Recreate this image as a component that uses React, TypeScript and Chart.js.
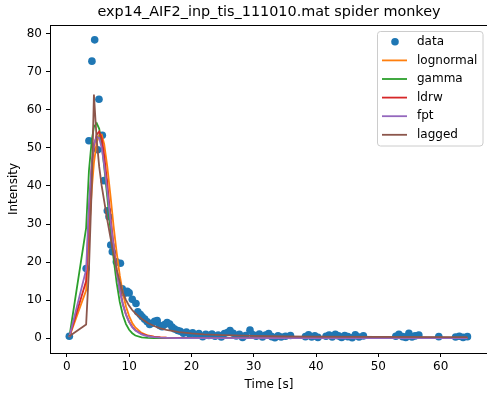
import React, { useEffect, useRef } from "react";
import { Chart, registerables } from "chart.js";

Chart.register(...registerables);

const TITLE = "exp14_AIF2_inp_tis_111010.mat spider monkey";
const X_LABEL = "Time [s]";
const Y_LABEL = "Intensity";
const X_TICKS = [0, 10, 20, 30, 40, 50, 60];
const Y_TICKS = [0, 10, 20, 30, 40, 50, 60, 70, 80];

const dataTimes = [
  0.4, 3.1, 3.55, 4.03, 4.47, 4.95, 5.16, 5.7, 5.97, 6.5,
  6.77, 7.05, 7.3, 7.95, 8.6, 8.9, 9.3, 9.7, 10.0, 10.5,
  11.1, 11.4, 11.8, 12.1, 12.5, 12.9, 13.3, 13.7, 14.1, 14.5,
  14.9, 15.3, 15.7, 16.1, 16.5, 16.9, 17.3, 17.8, 18.2, 18.7,
  19.2, 19.7, 20.2, 20.7, 21.2, 21.8, 22.3, 22.8, 23.3, 23.8,
  24.3, 24.8, 25.3, 25.8, 26.2, 26.7, 27.2, 27.7, 28.2, 28.7,
  29.4, 29.9, 30.4, 30.9, 31.4, 31.9, 32.4, 32.9, 33.4, 33.9,
  34.4, 35.1, 35.9, 38.3, 38.8, 39.3, 39.8, 40.3, 41.6, 42.1,
  42.6, 43.1, 43.6, 44.1, 44.6, 45.1, 45.8, 46.3, 46.9, 47.6,
  52.8, 53.3, 53.9, 54.4, 54.9, 55.4, 55.9, 56.5, 59.7, 62.4,
  63.0, 63.6, 64.3,
];
const dataValues = [
  0.5, 18.3, 51.9, 72.8, 78.4, 49.5, 62.8, 53.3, 41.4, 33.5,
  31.9, 24.5, 22.7, 20.1, 19.7, 13.0, 11.8, 12.3, 11.9, 10.2,
  9.1, 6.9, 6.2, 5.6, 5.0, 4.3, 3.6, 3.9, 4.4, 4.6,
  3.3, 3.0, 3.6, 4.1, 3.7, 2.9, 2.4, 2.0, 1.8, 1.3,
  1.6, 1.1, 1.4, 0.9, 1.2, 0.4, 1.0, 0.7, 1.1, 0.5,
  0.8, 0.3, 1.2, 1.5, 2.0, 1.3, 0.6, 1.0, 0.2, 0.7,
  2.1, 0.9, 0.5, 1.1, 0.3, 0.8, 1.2, 0.4, 0.1, 0.6,
  0.3, 0.5, 0.7, 0.4, 0.9, 0.3, 0.6, 0.2, 0.5, 0.8,
  0.3, 1.0, 0.6, 0.2, 0.7, 0.4, 0.1, 0.9, 0.3, 0.6,
  0.5, 1.0, 0.4, 0.2, 1.3, 0.3, 0.6, 0.8, 0.4, 0.3,
  0.5, 0.2, 0.4,
];

const fitTimes = [
  0.4, 3.1, 3.55, 4.0, 4.35, 4.8, 5.2, 5.6, 6.0, 6.5,
  7.0, 7.5, 8.0, 8.5, 9.0, 9.5, 10.0, 10.5, 11.0, 12.0,
  13.0, 14.0, 15.0, 16.0, 18.0, 20.0, 22.0, 25.0, 30.0, 35.0,
  40.0, 50.0, 64.3,
];
const lognormal = [
  0.3, 12.6, 27, 39, 46, 51.5, 53.3, 53.5, 51, 45,
  37.5, 29.5, 22.5, 16.5, 11.8, 8.3, 5.8, 4.0, 2.8, 1.4,
  0.7, 0.38, 0.2, 0.11, 0.03, 0.01, 0, 0, 0, 0,
  0, 0, 0,
];
const gamma = [
  0.3, 29, 44, 52, 55.5, 56.5, 55, 51, 45, 37,
  28.5, 21, 14.5, 9.5, 6, 3.7, 2.2, 1.3, 0.7, 0.2,
  0.05, 0.01, 0, 0, 0, 0, 0, 0, 0, 0,
  0, 0, 0,
];
const ldrw = [
  0.3, 15, 33, 45, 50.5, 53.5, 54.3, 52.5, 48, 40.5,
  32, 24.5, 18, 12.8, 9, 6.2, 4.3, 3.0, 2.1, 1.1,
  0.6, 0.35, 0.2, 0.12, 0.05, 0.02, 0.01, 0, 0, 0,
  0, 0, 0,
];
const fpt = [
  0.3, 18, 35, 46, 51, 53, 52.5, 50, 45.5, 38.5,
  31, 24, 17.5, 12.5, 8.8, 6.1, 4.2, 2.9, 2.0, 1.0,
  0.5, 0.25, 0.13, 0.07, 0.02, 0.01, 0, 0, 0, 0,
  0, 0, 0,
];
const lagged = [
  0.5, 3.6, 18, 40, 64, 52, 45, 40, 36, 31,
  26.5, 22, 18, 14.8, 12, 10, 8.5, 7.4, 6.5, 5.1,
  4.0, 3.2, 2.6, 2.2, 1.6, 1.25, 1.0, 0.8, 0.6, 0.48,
  0.42, 0.34, 0.28,
];

const SERIES_NAMES = ["lognormal", "gamma", "ldrw", "fpt", "lagged"];
const SERIES_VALUES = [lognormal, gamma, ldrw, fpt, lagged];
const SERIES_COLORS = ["#ff7f0e", "#2ca02c", "#d62728", "#9467bd", "#8c564b"];
const DATA_COLOR = "#1f77b4";
const FONT = "DejaVu Sans";

const decorPlugin = {
  id: "decor",
  afterDraw(chart: any) {
    const { ctx, chartArea } = chart;
    const { left, right, top, bottom } = chartArea;
    ctx.save();
    // frame
    ctx.strokeStyle = "#000";
    ctx.lineWidth = 1;
    ctx.strokeRect(left + 0.5, top + 0.5, right - left, bottom - top);
    // title
    ctx.fillStyle = "#000";
    ctx.font = `14.4px "${FONT}"`;
    ctx.textAlign = "center";
    ctx.textBaseline = "middle";
    ctx.fillText(TITLE, (left + right) / 2, 12.5);
    // axis labels
    ctx.font = `12px "${FONT}"`;
    ctx.fillText(X_LABEL, (left + right) / 2, 384.5);
    ctx.save();
    ctx.translate(14, (top + bottom) / 2);
    ctx.rotate(-Math.PI / 2);
    ctx.fillText(Y_LABEL, 0, 0);
    ctx.restore();
    // legend
    const lx = 377.5, ly = 31.5, lw = 105.5, lh = 114.5, r = 3;
    ctx.beginPath();
    ctx.moveTo(lx + r, ly);
    ctx.lineTo(lx + lw - r, ly);
    ctx.arcTo(lx + lw, ly, lx + lw, ly + r, r);
    ctx.lineTo(lx + lw, ly + lh - r);
    ctx.arcTo(lx + lw, ly + lh, lx + lw - r, ly + lh, r);
    ctx.lineTo(lx + r, ly + lh);
    ctx.arcTo(lx, ly + lh, lx, ly + lh - r, r);
    ctx.lineTo(lx, ly + r);
    ctx.arcTo(lx, ly, lx + r, ly, r);
    ctx.closePath();
    ctx.fillStyle = "rgba(255,255,255,0.8)";
    ctx.fill();
    ctx.strokeStyle = "#cccccc";
    ctx.lineWidth = 1;
    ctx.stroke();
    const rowY = [41.7, 60.4, 79.0, 97.6, 116.2, 134.8];
    const labels = ["data", ...SERIES_NAMES];
    ctx.textAlign = "left";
    ctx.textBaseline = "middle";
    ctx.font = `12px "${FONT}"`;
    labels.forEach((lab, i) => {
      const y = rowY[i];
      if (i === 0) {
        ctx.fillStyle = DATA_COLOR;
        ctx.beginPath();
        ctx.arc(395, y, 3.8, 0, Math.PI * 2);
        ctx.fill();
      } else {
        ctx.strokeStyle = SERIES_COLORS[i - 1];
        ctx.lineWidth = 1.8;
        ctx.beginPath();
        ctx.moveTo(382, y);
        ctx.lineTo(407, y);
        ctx.stroke();
      }
      ctx.fillStyle = "#000";
      ctx.fillText(lab, 417, y);
    });
    ctx.restore();
  },
};

export default function App() {
  const ref = useRef<HTMLCanvasElement>(null);
  useEffect(() => {
    const datasets: any[] = [
      {
        label: "data",
        data: dataTimes.map((t, i) => ({ x: t, y: dataValues[i] })),
        backgroundColor: DATA_COLOR,
        borderWidth: 0,
        pointRadius: 3.8,
        showLine: false,
        order: 10,
      },
      ...SERIES_NAMES.map((name, k) => ({
        label: name,
        data: fitTimes.map((t, i) => ({ x: t, y: SERIES_VALUES[k][i] })),
        borderColor: SERIES_COLORS[k],
        backgroundColor: SERIES_COLORS[k],
        borderWidth: 1.8,
        pointRadius: 0,
        showLine: true,
        fill: false,
        tension: 0,
        order: 5 - k,
      })),
    ];
    const tickFont = { family: FONT, size: 12 };
    const chart = new Chart(ref.current as HTMLCanvasElement, {
      type: "scatter",
      data: { datasets },
      options: {
        responsive: false,
        devicePixelRatio: 1,
        animation: false,
        events: [],
        layout: { padding: { top: 25, right: 2, left: 0, bottom: 0 } },
        plugins: { legend: { display: false }, tooltip: { enabled: false }, title: { display: false } },
        scales: {
          x: {
            type: "linear",
            min: -2.7,
            max: 67.6,
            afterBuildTicks: (s: any) => {
              s.ticks = X_TICKS.map((v) => ({ value: v }));
            },
            afterFit: (s: any) => {
              s.height = 45;
            },
            grid: { drawOnChartArea: false, drawTicks: true, tickLength: 4, tickColor: "#000", tickWidth: 1 },
            border: { display: false },
            ticks: { color: "#000", font: tickFont, padding: 3, maxRotation: 0, autoSkip: false },
          },
          y: {
            type: "linear",
            min: -3.9,
            max: 82.3,
            afterBuildTicks: (s: any) => {
              s.ticks = Y_TICKS.map((v) => ({ value: v }));
            },
            afterFit: (s: any) => {
              s.width = 50;
            },
            grid: { drawOnChartArea: false, drawTicks: true, tickLength: 4, tickColor: "#000", tickWidth: 1 },
            border: { display: false },
            ticks: { color: "#000", font: tickFont, padding: 4, autoSkip: false },
          },
        },
      } as any,
      plugins: [decorPlugin],
    });
    return () => chart.destroy();
  }, []);
  return (
    <div
      style={{
        position: "fixed",
        left: 0,
        top: 0,
        width: 487,
        height: 398,
        overflow: "hidden",
        background: "#fff",
      }}
    >
      <canvas ref={ref} width={492} height={398} style={{ display: "block", width: 492, height: 398 }} />
    </div>
  );
}
